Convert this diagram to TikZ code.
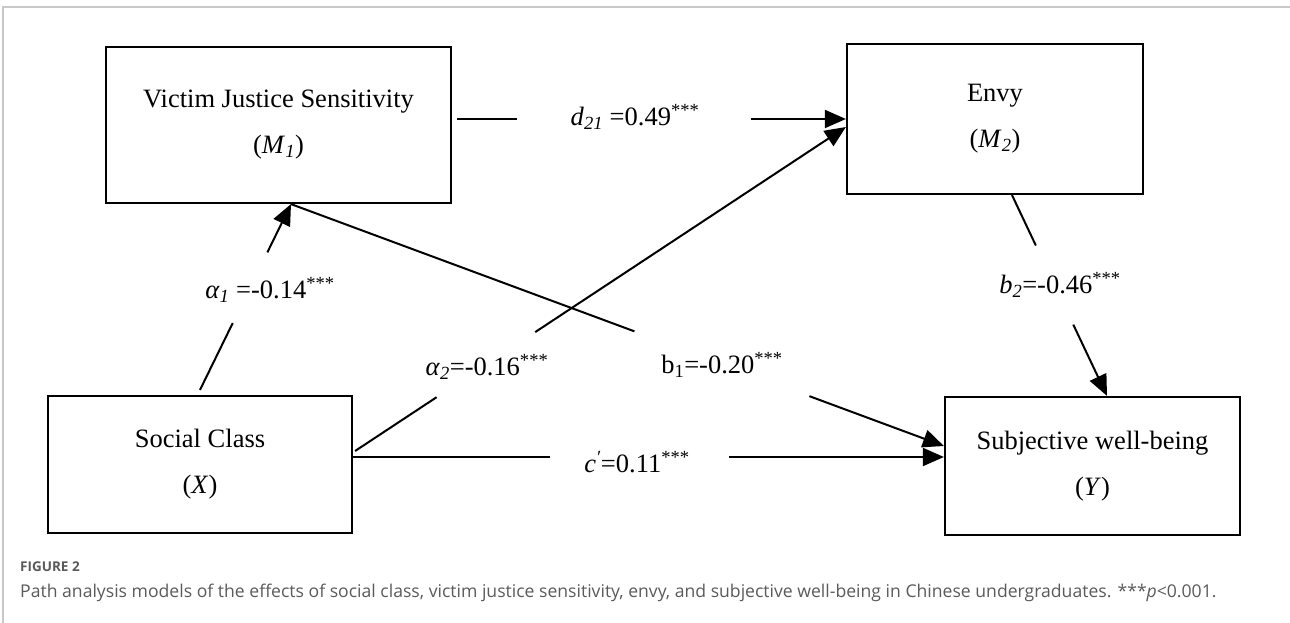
\documentclass[tikz,border=0pt]{standalone}
\usepackage{fontspec}
\setmainfont{Liberation Serif}
\newfontfamily\capfont{Open Sans}
\usetikzlibrary{arrows.meta,calc}
\definecolor{capgray}{HTML}{5A5A5A}
\definecolor{framegray}{HTML}{C8C8C8}
\begin{document}
\begin{tikzpicture}[x=1pt,y=-1pt,
  box/.style={draw, line width=2.2pt, inner sep=0pt, align=center, font=\fontsize{26.5}{46}\selectfont},
  conn/.style={line width=2pt},
  arr/.style={conn, -{Triangle[length=21pt,width=18pt]}},
  lab/.style={font=\fontsize{26.5}{30}\selectfont, inner sep=0pt}]
\useasboundingbox (0,0) rectangle (1290,623);
\draw[framegray, line width=2pt] (3,623) -- (3,7) -- (1290,7);

% boxes
\node[box, minimum width=345pt, minimum height=156pt] (vjs) at (278.5,125) {Victim Justice Sensitivity\\(\textit{M}\textsubscript{\textit{1}})};
\node[box, minimum width=296pt, minimum height=150pt] (envy) at (995,119) {Envy\\(\textit{M}\textsubscript{\textit{2}})};
\node[box, minimum width=304pt, minimum height=137pt] (sc) at (200,464.5) {Social Class\\(\textit{X})};
\node[box, minimum width=295pt, minimum height=138pt] (swb) at (1092.5,466) {Subjective well-being\\(\textit{Y})};

% attachment points
\coordinate (vjsB) at ($(vjs.south)+(12.5,0)$);
\coordinate (scN) at ($(sc.north)+(0,-5)$);
\coordinate (scE1) at ($(sc.east)+(2,-13.5)$);
\coordinate (scE2) at ($(sc.east)+(0,-7.5)$);
\coordinate (envW1) at ($(envy.west)+(0,8)$);
\coordinate (envW2) at (envy.west);
\coordinate (vjsE) at ($(vjs.east |- envW2)+(5,0)$);
\coordinate (envS) at ($(envy.south)+(17,0)$);
\coordinate (swbN) at ($(swb.north)+(14.5,0)$);
\coordinate (swbW1) at ($(swb.west)+(0,-20)$);
\coordinate (swbW2) at ($(swb.west)+(0,-9)$);

% a1: X -> M1
\draw[conn] (scN) -- ($(scN)!0.36!(vjsB)$);
\draw[arr] ($(scN)!0.74!(vjsB)$) -- (vjsB);
\node[lab] (la1) at (270,290) {\textit{α}\textsubscript{\textit{1}} =-0.14\textsuperscript{***}};

% a2: X -> M2
\draw[conn] (scE1) -- ($(scE1)!0.166!(envW1)$);
\draw[arr] ($(scE1)!0.367!(envW1)$) -- (envW1);
\node[lab] (la2) at (487,367) {\textit{α}\textsubscript{\textit{2}}=-0.16\textsuperscript{***}};

% d21: M1 -> M2
\draw[conn] (vjsE) -- ($(vjsE)!0.155!(envW2)$);
\draw[arr] ($(vjsE)!0.757!(envW2)$) -- (envW2);
\node[lab] (ld) at (635,117) {\textit{d}\textsubscript{\textit{21}} =0.49\textsuperscript{***}};

% b1: M1 -> Y
\draw[conn] (vjsB) -- ($(vjsB)!0.526!(swbW1)$);
\draw[arr] ($(vjsB)!0.794!(swbW1)$) -- (swbW1);
\node[lab] (lb1) at (722,365) {b\textsubscript{1}=-0.20\textsuperscript{***}};

% c': X -> Y
\draw[conn] (scE2) -- ($(scE2)!0.334!(swbW2)$);
\draw[arr] ($(scE2)!0.636!(swbW2)$) -- (swbW2);
\node[lab] (lc) at (637,462) {\textit{c}\textsuperscript{\textit{′}}=0.11\textsuperscript{***}};

% b2: M2 -> Y
\draw[conn] (envS) -- ($(envS)!0.251!(swbN)$);
\draw[arr] ($(envS)!0.645!(swbN)$) -- (swbN);
\node[lab] (lb2) at (1060,285) {\textit{b}\textsubscript{\textit{2}}=-0.46\textsuperscript{***}};

% caption
\node[anchor=west, inner sep=0pt, text=capgray, font=\capfont\bfseries\fontsize{13.5}{16}\selectfont] (fig) at (20,567) {FIGURE 2};
\node[anchor=west, inner sep=0pt, text=capgray, font=\capfont\fontsize{17.6}{20}\selectfont] (cap) at (20,593) {Path analysis models of the effects of social class, victim justice sensitivity, envy, and subjective well-being in Chinese undergraduates. ***\textit{p}<0.001.};
\end{tikzpicture}
\end{document}
